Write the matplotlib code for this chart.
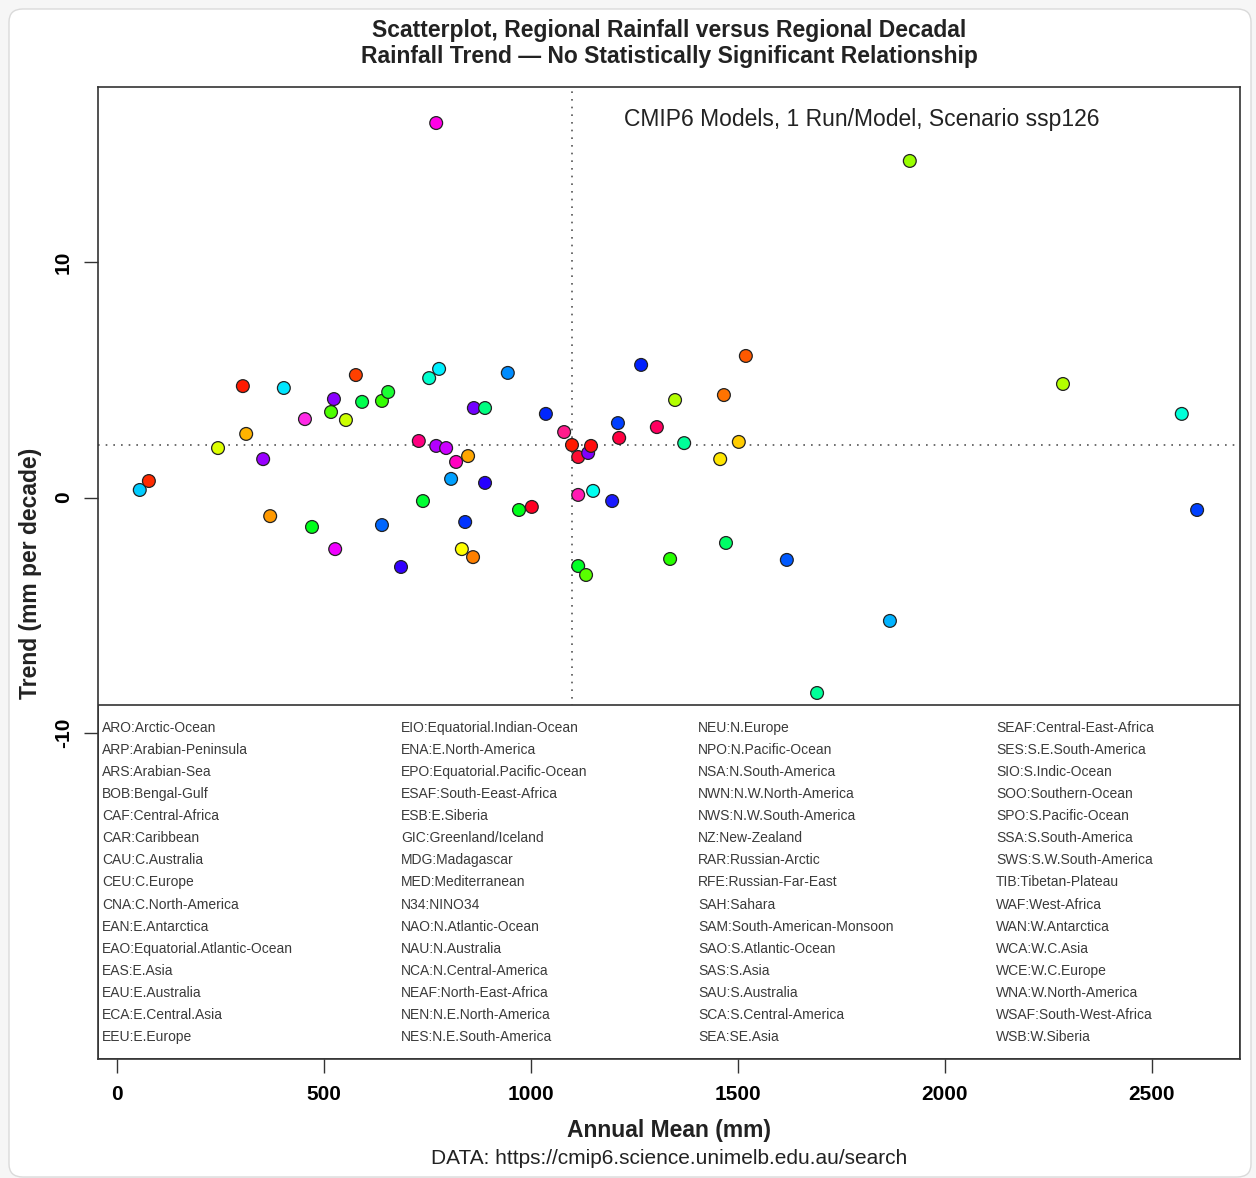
import matplotlib
matplotlib.use("Agg")
import matplotlib.pyplot as plt
from matplotlib.patches import FancyBboxPatch, Rectangle

plt.rcParams['font.family'] = ['Liberation Sans', 'DejaVu Sans']
plt.rcParams['axes.unicode_minus'] = False

# values
annual_mean = [55, 77, 244, 304, 312, 353, 370, 403, 454, 471, 517, 524, 527, 553,
               577, 592, 640, 640, 655, 686, 729, 739, 754, 771, 778, 771, 795, 807,
               819, 833, 841, 848, 860, 862, 889, 889, 944, 971, 1002, 1036, 1080,
               1099, 1114, 1138, 1145, 1114, 1150, 1114, 1133, 1196, 1210, 1213,
               1266, 1304, 1336, 1348, 1370, 1457, 1466, 1471, 1502, 1519, 1618,
               1691, 1867, 1915, 2285, 2572, 2609]
trend = [0.32, 0.70, 2.10, 4.73, 2.70, 1.63, -0.79, 4.65, 3.33, -1.25, 3.63, 4.18,
         -2.19, 3.29, 5.20, 4.06, 4.10, -1.17, 4.48, -2.95, 2.40, -0.15, 5.07, 15.90,
         5.46, 2.19, 2.10, 0.79, 1.51, -2.19, -1.04, 1.76, -2.53, 3.80, 3.80, 0.62,
         5.29, -0.53, -0.40, 3.55, 2.78, 2.23, 1.72, 1.89, 2.19, 0.11, 0.28, -2.91,
         -3.29, -0.15, 3.16, 2.53, 5.63, 2.99, -2.61, 4.14, 2.31, 1.63, 4.35, -1.93,
         2.36, 6.01, -2.65, -8.30, -5.24, 14.29, 4.82, 3.55, -0.53]
point_colors = ["#00CCFF", "#FF2A00", "#DDFF00", "#FF1A00", "#FFB300", "#9900FF",
                "#FF9900", "#00E6FF", "#FF2AE6", "#00FF1A", "#4DFF00", "#8A00FF",
                "#F000FF", "#CCFF00", "#FF4000", "#00FF4D", "#33FF00", "#0066FF",
                "#1AFF33", "#3300FF", "#FF0080", "#00FF33", "#00FFCC", "#FF00E6",
                "#00F0FF", "#B300FF", "#CC00FF", "#00A0FF", "#FF00C0", "#FFFF00",
                "#0033FF", "#FFA600", "#FF8000", "#7300FF", "#00FF80", "#2600FF",
                "#008CFF", "#00FF1A", "#FF0022", "#0026FF", "#FF1A8C", "#FF1A00",
                "#FF0D33", "#8000FF", "#FF0D0D", "#FF1AB3", "#00FFF0", "#00FF26",
                "#59FF00", "#1A1AFF", "#0040FF", "#FF0040", "#0020FF", "#FF0060",
                "#26FF00", "#B3FF00", "#00FF99", "#FFE600", "#FF7300", "#00FF66",
                "#FFCC00", "#FF5900", "#0059FF", "#00FF99", "#00B3FF", "#99FF00",
                "#B3FF00", "#00FFD9", "#0040FF"]

ref_mean = 1100
ref_trend = 2.25

regions = [
    "ARO:Arctic-Ocean", "ARP:Arabian-Peninsula", "ARS:Arabian-Sea", "BOB:Bengal-Gulf",
    "CAF:Central-Africa", "CAR:Caribbean", "CAU:C.Australia", "CEU:C.Europe",
    "CNA:C.North-America", "EAN:E.Antarctica", "EAO:Equatorial.Atlantic-Ocean",
    "EAS:E.Asia", "EAU:E.Australia", "ECA:E.Central.Asia", "EEU:E.Europe",
    "EIO:Equatorial.Indian-Ocean", "ENA:E.North-America", "EPO:Equatorial.Pacific-Ocean",
    "ESAF:South-Eeast-Africa", "ESB:E.Siberia", "GIC:Greenland/Iceland",
    "MDG:Madagascar", "MED:Mediterranean", "N34:NINO34", "NAO:N.Atlantic-Ocean",
    "NAU:N.Australia", "NCA:N.Central-America", "NEAF:North-East-Africa",
    "NEN:N.E.North-America", "NES:N.E.South-America",
    "NEU:N.Europe", "NPO:N.Pacific-Ocean", "NSA:N.South-America",
    "NWN:N.W.North-America", "NWS:N.W.South-America", "NZ:New-Zealand",
    "RAR:Russian-Arctic", "RFE:Russian-Far-East", "SAH:Sahara",
    "SAM:South-American-Monsoon", "SAO:S.Atlantic-Ocean", "SAS:S.Asia",
    "SAU:S.Australia", "SCA:S.Central-America", "SEA:SE.Asia",
    "SEAF:Central-East-Africa", "SES:S.E.South-America", "SIO:S.Indic-Ocean",
    "SOO:Southern-Ocean", "SPO:S.Pacific-Ocean", "SSA:S.South-America",
    "SWS:S.W.South-America", "TIB:Tibetan-Plateau", "WAF:West-Africa",
    "WAN:W.Antarctica", "WCA:W.C.Asia", "WCE:W.C.Europe", "WNA:W.North-America",
    "WSAF:South-West-Africa", "WSB:W.Siberia",
]

W, H = 1256, 1178
fig = plt.figure(figsize=(W / 100, H / 100), dpi=100)
fig.patch.set_facecolor("#F6F6F6")

# white rounded card behind everything
card = FancyBboxPatch((9 / W, 1 - 1177 / H), 1242 / W, 1168 / H,
                      boxstyle="round,pad=0,rounding_size=0.011",
                      transform=fig.transFigure, facecolor="white",
                      edgecolor="#DADADA", linewidth=1.0, zorder=-1)
fig.add_artist(card)

ax = fig.add_axes([98 / W, 1 - 1059 / H, 1142 / W, 972 / H])
ax.set_xlim(-45.9, 2712.6)
ax.set_ylim(-23.84, 17.43)

ax.axvline(ref_mean, color="#555555", lw=1.2, ls=(0, (1, 3.6)), zorder=1)
ax.axhline(ref_trend, color="#555555", lw=1.2, ls=(0, (1, 3.6)), zorder=1)

ax.scatter(annual_mean, trend, s=85, c=point_colors, edgecolors="#222222",
           linewidths=0.9, zorder=2)

# legend box in the lower part of the plot region
legend_top = (1059 - 705) / 972
ax.add_patch(Rectangle((0, 0), 1, legend_top, transform=ax.transAxes,
                       facecolor="white", edgecolor="#333333", lw=1.2, zorder=3))
col_x = [102, 401, 698, 996]
for i, name in enumerate(regions):
    col, row = divmod(i, 15)
    ypx = 728 + row * 22.07
    ax.text((col_x[col] - 98) / 1142, (1059 - ypx) / 972, name,
            transform=ax.transAxes, ha="left", va="center", fontsize=10,
            color="#3a3a3a", zorder=4)

ax.text((1099 - 98) / 1142, 0.967, "CMIP6 Models, 1 Run/Model, Scenario ssp126",
        transform=ax.transAxes, ha="right", va="center", fontsize=16.5,
        color="#222222", zorder=4)

for side in ax.spines.values():
    side.set_color("#333333")
    side.set_linewidth(1.2)
    side.set_zorder(5)

ax.set_xticks([0, 500, 1000, 1500, 2000, 2500])
ax.set_yticks([-10, 0, 10])
ax.tick_params(direction="out", length=10, width=1.0, color="#333333",
               labelsize=15)
ax.tick_params(axis="x", pad=9)
ax.tick_params(axis="y", pad=8)
for lab in ax.get_xticklabels():
    lab.set_fontweight("bold")
for lab in ax.get_yticklabels():
    lab.set_fontweight("bold")
    lab.set_rotation(90)
    lab.set_va("center")

fig.text(669 / W, 1 - 30 / H, "Scatterplot, Regional Rainfall versus Regional Decadal",
         ha="center", va="center", fontsize=16.5, fontweight="bold", color="#222222")
fig.text(669 / W, 1 - 57 / H, "Rainfall Trend \u2014 No Statistically Significant Relationship",
         ha="center", va="center", fontsize=16.5, fontweight="bold", color="#222222")
fig.text(669 / W, 1 - 1130 / H, "Annual Mean (mm)", ha="center", va="center",
         fontsize=16.5, fontweight="bold", color="#222222")
fig.text(669 / W, 1 - 1158 / H, "DATA: https://cmip6.science.unimelb.edu.au/search",
         ha="center", va="center", fontsize=15, color="#222222")
fig.text(30 / W, 1 - 573 / H, "Trend (mm per decade)", ha="center", va="center",
         rotation=90, fontsize=16.5, fontweight="bold", color="#222222")

fig.savefig("out.png", dpi=100, facecolor=fig.get_facecolor())
